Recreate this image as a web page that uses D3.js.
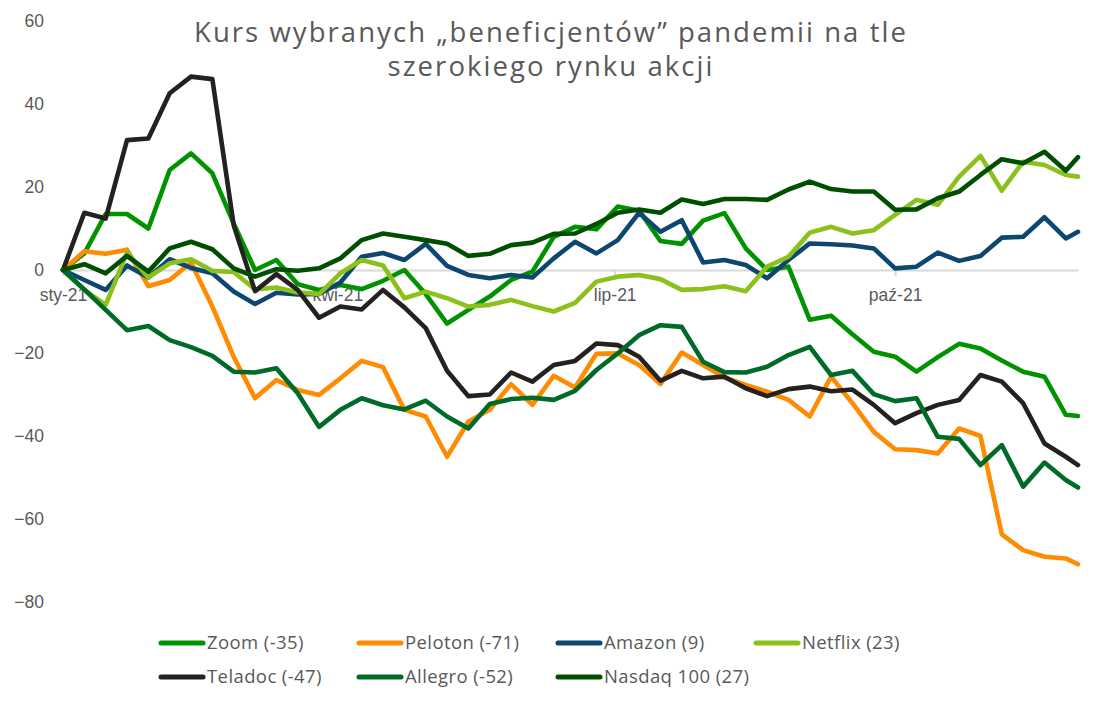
<!DOCTYPE html>
<html>
<head>
<meta charset="utf-8">
<script src="https://cdnjs.cloudflare.com/ajax/libs/d3/7.8.5/d3.min.js"></script>
<style>
  body { margin: 0; background: #fff; }
  svg { display: block; font-family: 'Open Sans', sans-serif; }
</style>
</head>
<body>
<script>
// weekly closes (Fridays) + last session, % change since start of year
let dates = ['2021-01-01','2021-01-08','2021-01-15','2021-01-22','2021-01-29',
  '2021-02-05','2021-02-12','2021-02-19','2021-02-26',
  '2021-03-05','2021-03-12','2021-03-19','2021-03-26',
  '2021-04-02','2021-04-09','2021-04-16','2021-04-23','2021-04-30',
  '2021-05-07','2021-05-14','2021-05-21','2021-05-28',
  '2021-06-04','2021-06-11','2021-06-18','2021-06-25',
  '2021-07-02','2021-07-09','2021-07-16','2021-07-23','2021-07-30',
  '2021-08-06','2021-08-13','2021-08-20','2021-08-27',
  '2021-09-03','2021-09-10','2021-09-17','2021-09-24',
  '2021-10-01','2021-10-08','2021-10-15','2021-10-22','2021-10-29',
  '2021-11-05','2021-11-12','2021-11-19','2021-11-26','2021-11-30'];

let zoom = [0, 4, 13.5, 13.5, 10, 24.1, 28.1, 23.3, 11.2, 0, 2.4, -3.4, -4.8, -3.6, -4.6, -2.6, 0, -5.8, -12.9, -9.6,
  -6.4, -2.4, -0.4, 8, 10.4, 9.8, 15.3, 14.3, 7, 6.3, 11.9, 13.7, 5.2, 0, 0.8, -12, -11, -15.5, -19.7, -20.9,
  -24.5, -21, -17.8, -18.9, -21.8, -24.5, -25.7, -34.9, -35.2];
let peloton = [0, 4.5, 3.9, 4.9, -3.9, -2.4, 1.8, -8.8, -20.9, -30.9, -26.5, -28.9, -30.1, -26.1, -21.9, -23.4, -33.7, -35.3, -45, -36.5,
  -33.7, -27.5, -32.5, -25.5, -28.3, -20.2, -20.1, -22.9, -27.5, -19.9, -22.9, -25.9, -27.7, -29.3, -31.3, -35.3, -25.7, -32.1, -39, -43.2,
  -43.4, -44.2, -38.2, -40, -63.7, -67.5, -69.1, -69.5, -70.9];
let amazon = [0, -2.4, -4.8, 1.1, -1.8, 2.6, 0.5, -0.8, -5.2, -8.2, -5.5, -5.9, -5.8, -3, 3.2, 4.1, 2.4, 6.3, 1, -1.2,
  -2, -1.2, -1.8, 2.8, 6.8, 4, 7.2, 13.8, 9.2, 12, 1.8, 2.4, 1.2, -2, 2.4, 6.4, 6.2, 5.9, 5.2, 0.4,
  0.8, 4.2, 2.2, 3.4, 7.8, 8, 12.7, 7.6, 9.2];
let netflix = [0, -4.8, -8.4, 4.2, -1.8, 1.6, 2.6, -0.2, -0.5, -4.7, -4.2, -5.4, -5.8, -0.8, 2.4, 1.1, -6.8, -5.2, -6.8, -8.8,
  -8.4, -7.2, -8.7, -10, -7.9, -2.8, -1.6, -1.2, -2.2, -4.8, -4.6, -3.9, -5.1, 0.8, 3.2, 9, 10.4, 8.8, 9.6, 13.3,
  16.9, 15.7, 22.5, 27.5, 19.1, 26.1, 25.3, 22.9, 22.5];
let teladoc = [0, 13.8, 12.4, 31.3, 31.7, 42.6, 46.6, 46, 10.8, -5.1, -1, -4.8, -11.5, -8.8, -9.5, -4.8, -9, -14, -24.3, -30.4,
  -30, -24.7, -26.9, -22.9, -21.9, -17.7, -18.1, -20.9, -26.7, -24.3, -26.1, -25.7, -28.5, -30.4, -28.7, -28.1, -29.2, -28.8, -32.5, -36.9,
  -34.5, -32.5, -31.3, -25.3, -26.9, -32.1, -41.8, -45, -47];
let allegro = [0, -4.7, -9.6, -14.5, -13.5, -16.9, -18.6, -20.7, -24.5, -24.7, -23.7, -29.7, -37.8, -33.7, -30.9, -32.6, -33.6, -31.5, -35.3, -38.2,
  -32.3, -31.1, -30.8, -31.3, -29.1, -24.1, -20.1, -15.7, -13.3, -13.7, -22.1, -24.6, -24.7, -23.3, -20.5, -18.5, -25.3, -24.3, -29.9, -31.6,
  -30.9, -40.2, -40.7, -47, -42.2, -52.2, -46.4, -50.6, -52.4];
let nasdaq = [0, 1.4, -0.8, 3.4, -0.4, 5.2, 6.8, 5, 0.4, -1.6, 0.2, -0.2, 0.4, 2.8, 7.2, 8.8, 8, 7.2, 6.3, 3.4,
  3.9, 6, 6.6, 8.7, 8.8, 11.1, 13.8, 14.6, 13.8, 17, 15.9, 17.1, 17.1, 16.9, 19.4, 21.3, 19.5, 18.9, 18.9, 14.5,
  14.6, 17.3, 18.9, 22.9, 26.7, 25.7, 28.5, 23.9, 27.2];

let seriesNames = ['Zoom (-35)', 'Peloton (-71)', 'Amazon (9)', 'Netflix (23)', 'Teladoc (-47)', 'Allegro (-52)', 'Nasdaq 100 (27)'];
let seriesValues = [zoom, peloton, amazon, netflix, teladoc, allegro, nasdaq];
let colors = ['#009300', '#ff8c00', '#0c476f', '#8cc01a', '#25211f', '#006a28', '#004f00'];

let xTickDates = ['2021-01-01', '2021-04-01', '2021-07-01', '2021-10-01'];
let xTickLabels = ['sty-21', 'kwi-21', 'lip-21', 'paź-21'];
let yTicks = [60, 40, 20, 0, -20, -40, -60, -80];

let titleLines = ['Kurs wybranych „beneficjentów” pandemii na tle', 'szerokiego rynku akcji'];

let w = 1102, h = 706;
let plotLeft = 63, plotRight = 1078, plotTop = 21, plotBottom = 602;
let textColor = '#595959';

let parseDate = d3.timeParse('%Y-%m-%d');
let dateObjs = dates.map(parseDate);

let xScale = d3.scaleTime()
  .domain(d3.extent(dateObjs))
  .range([plotLeft, plotRight]);

let yScale = d3.scaleLinear()
  .domain([-80, 60])
  .range([plotBottom, plotTop]);

let svg = d3.select('body')
  .append('svg')
  .attr('width', w)
  .attr('height', h);

// title: fixed size, letter spacing stretched to the reference width
let title = svg.append('g').attr('fill', textColor).attr('text-anchor', 'middle')
  .style('font-size', '27.5px');
let t1 = title.append('text').attr('x', 551).attr('y', 42).text(titleLines[0]);
let t2 = title.append('text').attr('x', 551).attr('y', 76).text(titleLines[1]);
let spacing = (714 - t1.node().getComputedTextLength()) / titleLines[0].length;
title.style('letter-spacing', spacing + 'px');

// y axis labels, no line
let yAxis = d3.axisLeft(yScale).tickValues(yTicks).tickSize(0).tickPadding(0);
let yG = svg.append('g')
  .attr('transform', 'translate(44,0)')
  .call(yAxis);
yG.select('.domain').remove();
yG.selectAll('text').attr('fill', textColor).style('font-size', '17.5px').attr('font-family', null);

// x axis sits at zero
let xAxis = d3.axisBottom(xScale)
  .tickValues(xTickDates.map(parseDate))
  .tickFormat((d, i) => xTickLabels[i])
  .tickSizeInner(6)
  .tickSizeOuter(0)
  .tickPadding(13);
let xG = svg.append('g')
  .attr('transform', 'translate(0,' + yScale(0) + ')')
  .call(xAxis);
xG.select('.domain').attr('stroke', '#d9d9d9').attr('stroke-width', 2);
xG.selectAll('.tick line').attr('stroke', '#d9d9d9').attr('stroke-width', 2);
xG.selectAll('text').attr('fill', textColor).style('font-size', '17.5px').attr('font-family', null);

let line = d3.line()
  .x((d, i) => xScale(dateObjs[i]))
  .y(d => yScale(d));

svg.append('g')
  .selectAll('path')
  .data(seriesValues)
  .enter()
  .append('path')
  .attr('d', d => line(d))
  .attr('fill', 'none')
  .attr('stroke', (d, i) => colors[i])
  .attr('stroke-width', 4.6)
  .attr('stroke-linejoin', 'round')
  .attr('stroke-linecap', 'round');

// legend: 4 per row
let legendX = [161, 359, 558, 756];
let legendY = [643, 677];
let legend = svg.append('g')
  .selectAll('g')
  .data(seriesNames)
  .enter()
  .append('g')
  .attr('transform', (d, i) => 'translate(' + legendX[i % 4] + ',' + legendY[Math.floor(i / 4)] + ')');

legend.append('line')
  .attr('x1', 0).attr('x2', 42)
  .attr('stroke', (d, i) => colors[i])
  .attr('stroke-width', 5)
  .attr('stroke-linecap', 'round');

legend.append('text')
  .attr('x', 46)
  .attr('dy', '0.35em')
  .attr('fill', textColor)
  .style('font-size', '18.5px')
  .style('letter-spacing', '0.4px')
  .text(d => d);
</script>
</body>
</html>
